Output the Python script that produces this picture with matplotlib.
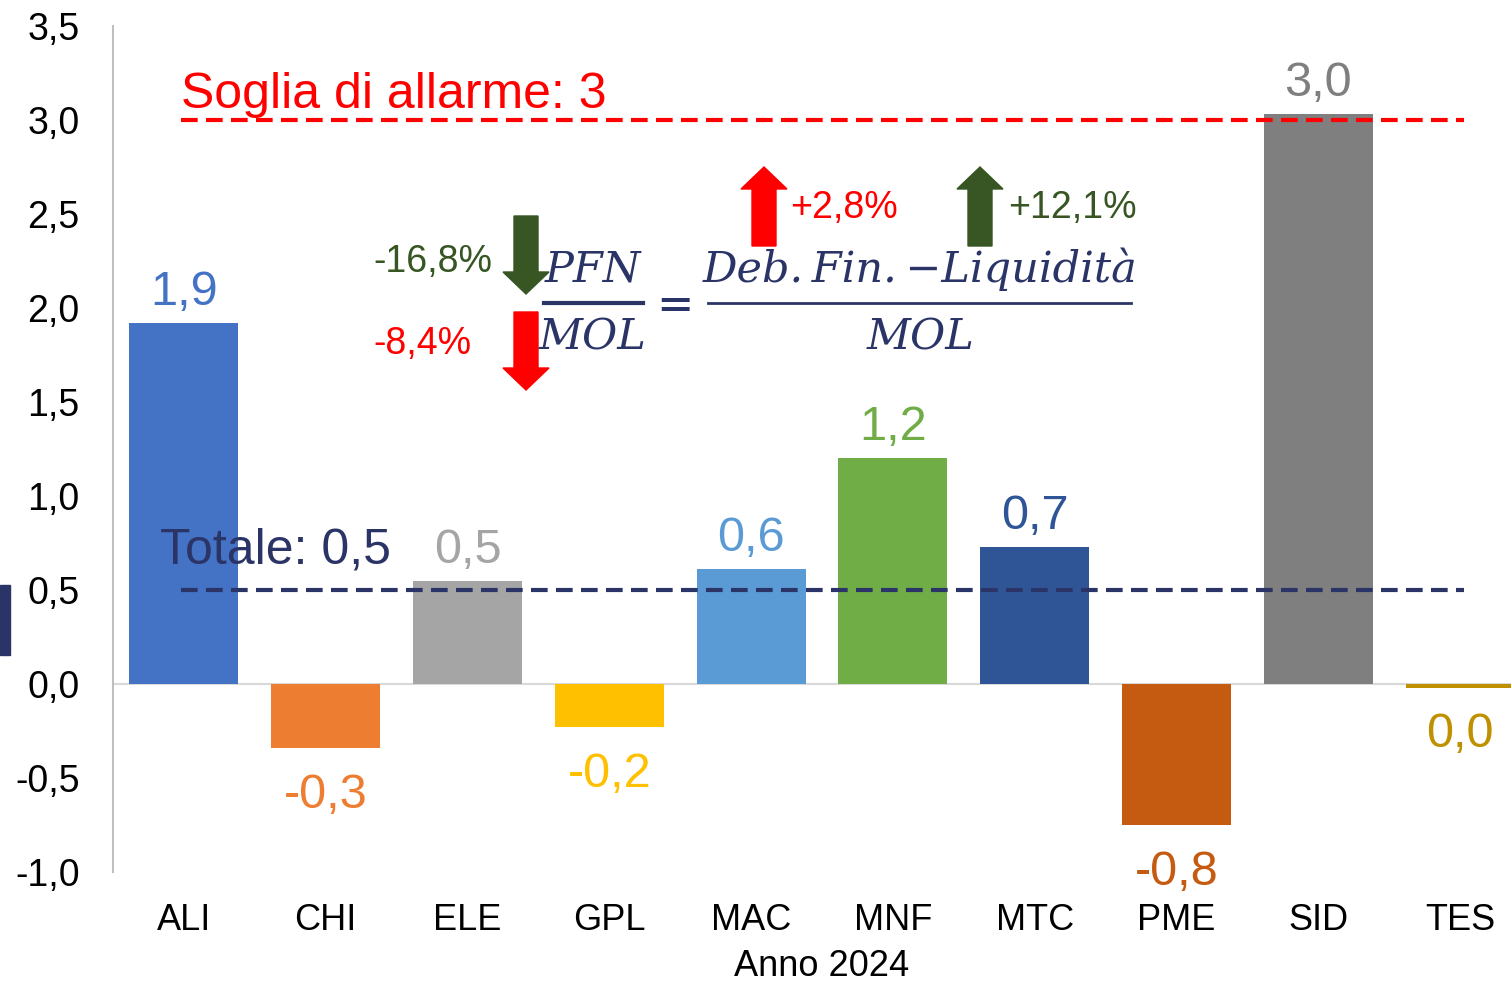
import matplotlib
matplotlib.use("Agg")
import matplotlib.pyplot as plt
from matplotlib.patches import Polygon, Rectangle
from matplotlib.transforms import Affine2D

# === DATI ===
settori = ["ALI", "CHI", "ELE", "GPL", "MAC", "MNF", "MTC", "PME", "SID", "TES"]
valori = [1.92, -0.34, 0.55, -0.23, 0.61, 1.20, 0.73, -0.75, 3.03, -0.02]
etichette = ["1,9", "-0,3", "0,5", "-0,2", "0,6", "1,2", "0,7", "-0,8", "3,0", "0,0"]
colori = ["#4472C4", "#ED7D31", "#A5A5A5", "#FFC000", "#5B9BD5",
          "#70AD47", "#2F5597", "#C55A11", "#7F7F7F", "#BF9000"]
soglia = 3.0
totale = 0.5
yticks = [-1.0, -0.5, 0.0, 0.5, 1.0, 1.5, 2.0, 2.5, 3.0, 3.5]

NAVY = "#2B3466"
VERDE = "#375623"
ROSSO = "#FF0000"

plt.rcParams["font.family"] = ["Liberation Sans", "DejaVu Sans"]

W, H = 1511, 982
fig = plt.figure(figsize=(W / 100, H / 100), dpi=100)
# trasformazione in pixel (origine in alto a sinistra) per le decorazioni
px = Affine2D().scale(1 / W, -1 / H).translate(0, 1) + fig.transFigure

ax = fig.add_axes([113 / W, (H - 872) / H, 1418 / W, 846 / H])
x = list(range(len(settori)))
ax.bar(x, valori, width=0.77, color=colori, zorder=2)

for xi, v, lab, c in zip(x, valori, etichette, colori):
    off = 22 if v > 0 else -34
    ax.annotate(lab, (xi, v), xytext=(0, off), textcoords="offset points",
                ha="center", va="center", fontsize=35, color=c)

ax.set_xlim(-0.5, 9.5)
ax.set_ylim(-1.0, 3.5)
ax.set_yticks(yticks)
ax.set_yticklabels([f"{t:.1f}".replace(".", ",") for t in yticks], fontsize=27)
ax.set_xticks(x)
ax.set_xticklabels(settori, fontsize=26)
ax.tick_params(length=0)
ax.tick_params(axis="x", pad=22)
ax.tick_params(axis="y", pad=24)
ax.set_xlabel("Anno 2024", fontsize=26, labelpad=8)

for s in ["top", "right", "bottom"]:
    ax.spines[s].set_visible(False)
ax.spines["left"].set_color("#BFBFBF")
ax.spines["left"].set_linewidth(1.5)
ax.axhline(0, color="#D9D9D9", lw=1.5, zorder=1)

# linee di riferimento
ax.hlines(soglia, -0.02, 9.03, colors=ROSSO, linestyles=(0, (4, 2)), lw=3, zorder=3)
ax.hlines(totale, -0.02, 9.03, colors=NAVY, linestyles=(0, (4, 2)), lw=3, zorder=3)
ax.text(-0.02, soglia + 0.012, "Soglia di allarme: 3", color=ROSSO, fontsize=36,
        va="bottom", ha="left")
ax.text(-0.17, totale + 0.09, "Totale: 0,5", color=NAVY, fontsize=36,
        va="bottom", ha="left")

# === FORMULA ===
ff = dict(family="DejaVu Serif", style="italic", color=NAVY, fontsize=31,
          transform=px, ha="center", va="baseline")
fig.text(593, 282, "PFN", **ff)
fig.text(593, 349, "MOL", **ff)
fig.text(920, 282, "Deb.\u2009Fin.\u2009\u2212Liquidità", **ff)
fig.text(921, 349, "MOL", **ff)
fig.text(675, 319, "=", family="DejaVu Serif", color=NAVY, fontsize=32,
         transform=px, ha="center", va="baseline")
fig.add_artist(plt.Line2D([544, 643], [303, 303], color=NAVY, lw=3, transform=px))
fig.add_artist(plt.Line2D([708, 1131], [303, 303], color=NAVY, lw=2, transform=px))


def freccia(cx, y0, y1, ytip, color):
    # y0: coda, y1: base della punta, ytip: punta
    hs, hh = 12, 23
    pts = [(cx - hs, y0), (cx + hs, y0), (cx + hs, y1), (cx + hh, y1),
           (cx, ytip), (cx - hh, y1), (cx - hs, y1)]
    fig.add_artist(Polygon(pts, closed=True, color=color, transform=px))


freccia(526, 216, 272, 294, VERDE)
freccia(526, 312, 368, 390, ROSSO)
freccia(764, 246, 189, 167, ROSSO)
freccia(980, 246, 189, 167, VERDE)

pf = dict(fontsize=27, transform=px, va="center")
fig.text(373, 262, "-16,8%", color=VERDE, ha="left", **pf)
fig.text(373, 344, "-8,4%", color=ROSSO, ha="left", **pf)
fig.text(790, 208, "+2,8%", color=ROSSO, ha="left", **pf)
fig.text(1008, 208, "+12,1%", color=VERDE, ha="left", **pf)

# piccolo rettangolo sul bordo sinistro
fig.add_artist(Rectangle((0, 585), 10, 70, color=NAVY, transform=px))

fig.savefig("out.png", dpi=100)
